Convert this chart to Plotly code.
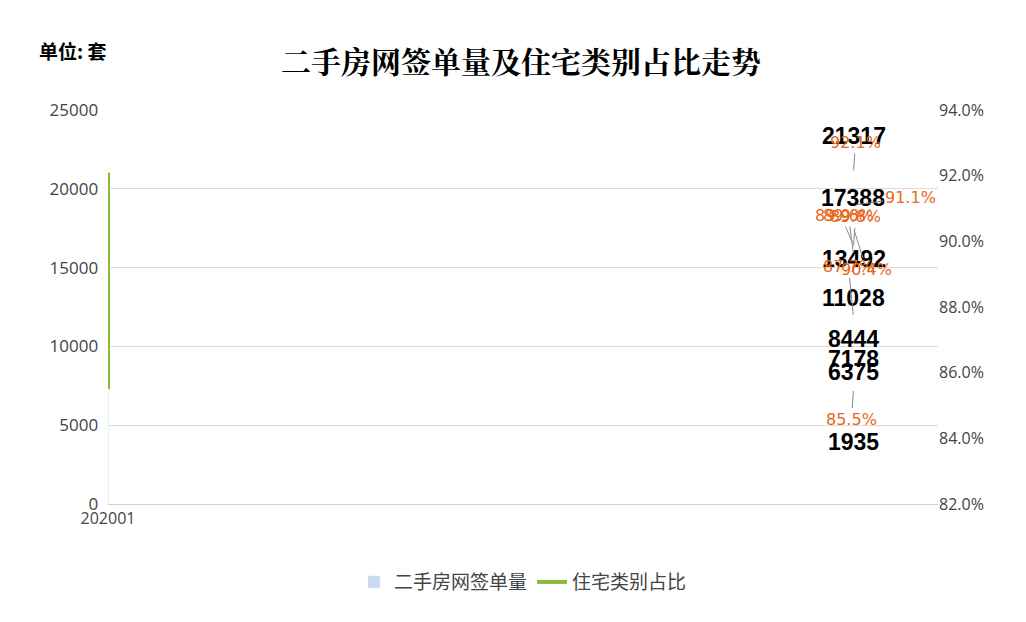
import plotly.graph_objects as go

months = ["202001","202002","202003","202004","202005","202006","202007","202008"]
volumes = [8444, 1935, 6375, 17388, 11028, 13492, 21317, 7178]
shares = [89.9, 89.6, 87.7, 90.4, 89.8, 92.1, 91.1, 85.5]
pct_offsets = [(-13,-29),(-5,-39),(-5,-50),(13,41),(2,-31),(2,-30),(57,-8),(-2,30)]

fig = go.Figure()
fig.add_trace(go.Bar(x=months, y=volumes, name="二手房网签单量", marker_color="#c6d8f2", width=0.3))
fig.add_trace(go.Scatter(x=months, y=shares, name="住宅类别占比", yaxis="y2", mode="lines",
                         line=dict(color="#8cbb3c", width=4)))

ann = []
for m, v in zip(months, volumes):
    ann.append(dict(x=m, y=v, xref="x", yref="y", text=f"<b>{v}</b>", showarrow=False,
                    yshift=32, font=dict(size=23, color="black", family="Liberation Sans")))
for m, s, (ax, ay) in zip(months, shares, pct_offsets):
    ann.append(dict(x=m, y=s, xref="x", yref="y2", text=f"{s:.1f}%", showarrow=True, arrowhead=0,
                    arrowwidth=1, arrowcolor="#888", ax=ax, ay=ay, standoff=2,
                    font=dict(size=16, color="#e8681a", family="DejaVu Sans")))
ann.append(dict(x=-0.085, y=1.15, xref="paper", yref="paper", text="<b>单位: 套</b>", showarrow=False,
                font=dict(size=19, color="black", family="Noto Sans CJK SC"), xanchor="left", yanchor="middle"))

fig.update_layout(
    width=1026, height=622, plot_bgcolor="white", paper_bgcolor="white",
    margin=dict(l=100, r=96, t=102, b=126),
    title=dict(text="<b>二手房网签单量及住宅类别占比走势</b>", x=0.5, xanchor="center", y=0.93,
               font=dict(size=30, color="black", family="Noto Serif CJK SC, Noto Sans CJK SC")),
    xaxis=dict(type="category", showline=True, linecolor="#d0d0d0", tickfont=dict(size=16, color="#444"), ticks=""),
    yaxis=dict(range=[0, 25000], dtick=5000, tickformat="d", gridcolor="#dcdcdc", zeroline=False,
               tickfont=dict(size=17, color="#444"), ticksuffix="  "),
    yaxis2=dict(range=[82, 94], dtick=2, overlaying="y", side="right", showgrid=False,
                tickformat=".1f", ticksuffix="%", tickfont=dict(size=16, color="#444")),
    legend=dict(orientation="h", x=0.5, xanchor="center", y=-0.15, yanchor="top",
                font=dict(size=19, color="#444", family="Noto Sans CJK SC")),
    annotations=ann,
)
fig.write_html("out.html")
